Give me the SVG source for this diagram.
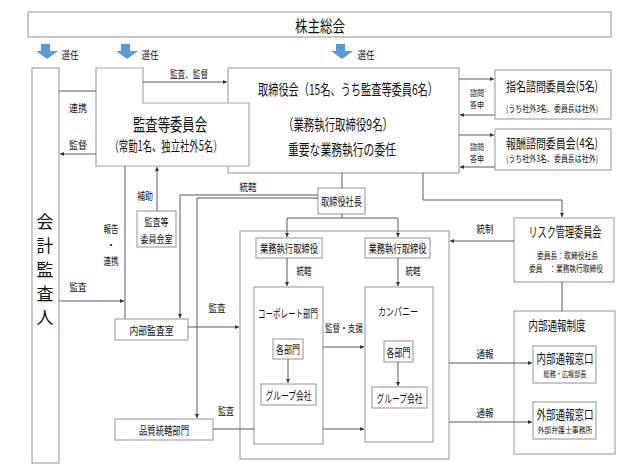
<svg xmlns="http://www.w3.org/2000/svg" width="636" height="475" viewBox="0 0 636 475">
<style>
.t{font-family:"Noto Sans CJK JP","Noto Sans CJK SC",sans-serif;fill:#111;text-anchor:middle;dominant-baseline:central}
.b{fill:#fff;stroke:#a6a6a6;stroke-width:1.2}
.c{fill:none;stroke:#5a5a5a;stroke-width:1}
.blue{fill:#5b9bd5}
</style>
<defs>
<marker id="ah" viewBox="0 0 6 6" refX="6" refY="3" markerWidth="4" markerHeight="4" markerUnits="userSpaceOnUse" orient="auto">
<path d="M0,0 L6,3 L0,6 Z" fill="#333"/>
</marker>
</defs>
<rect width="636" height="475" fill="#fff"/>

<g id="shareholders">
<rect class="b" x="28" y="12" width="583" height="25"/>
<text class="t" x="320" y="25" font-size="16" textLength="50" lengthAdjust="spacingAndGlyphs">株主総会</text>
</g>

<g id="elect-arrows">
<polygon class="blue" points="41,44 50,44 50,51 58,51 47,59 36,51 41,51"/>
<text class="t" x="70" y="54" font-size="10" textLength="17" lengthAdjust="spacingAndGlyphs">選任</text>
<polygon class="blue" points="121,44 130,44 130,51 138,51 127,59 116,51 121,51"/>
<text class="t" x="150" y="54" font-size="10" textLength="17" lengthAdjust="spacingAndGlyphs">選任</text>
<polygon class="blue" points="336,44 345,44 345,51 353,51 342,59 331,51 336,51"/>
<text class="t" x="366" y="54" font-size="10" textLength="17" lengthAdjust="spacingAndGlyphs">選任</text>
</g>

<g id="auditor">
<rect class="b" x="32" y="68" width="27" height="395"/>
<text class="t" x="45" y="220" font-size="17">会</text>
<text class="t" x="45" y="244" font-size="17">計</text>
<text class="t" x="45" y="268" font-size="17">監</text>
<text class="t" x="45" y="292" font-size="17">査</text>
<text class="t" x="45" y="316" font-size="17">人</text>
</g>

<g id="board">
<rect class="b" x="228" y="68" width="231" height="105"/>
<text class="t" x="348" y="88" font-size="15" textLength="180" lengthAdjust="spacingAndGlyphs">取締役会（15名、うち監査等委員6名）</text>
<text class="t" x="338" y="123" font-size="15" textLength="110" lengthAdjust="spacingAndGlyphs">（業務執行取締役9名）</text>
<text class="t" x="342" y="148" font-size="15" textLength="108" lengthAdjust="spacingAndGlyphs">重要な業務執行の委任</text>
</g>

<g id="audit-committee">
<polygon class="b" points="96,68 143,68 143,103 249,103 249,166 96,166"/>
<text class="t" x="170" y="123" font-size="17" textLength="74" lengthAdjust="spacingAndGlyphs">監査等委員会</text>
<text class="t" x="166" y="145" font-size="14" textLength="113" lengthAdjust="spacingAndGlyphs">（常勤1名、独立社外5名）</text>
</g>

<g id="nomination">
<rect class="b" x="495" y="70" width="116" height="49"/>
<text class="t" x="552" y="85" font-size="13" textLength="92" lengthAdjust="spacingAndGlyphs">指名諮問委員会(5名)</text>
<text class="t" x="552" y="108" font-size="9" textLength="92" lengthAdjust="spacingAndGlyphs">(うち社外3名、委員長は社外)</text>
</g>

<g id="compensation">
<rect class="b" x="495" y="129" width="116" height="41"/>
<text class="t" x="552" y="142" font-size="13" textLength="92" lengthAdjust="spacingAndGlyphs">報酬諮問委員会(4名)</text>
<text class="t" x="552" y="158" font-size="9" textLength="92" lengthAdjust="spacingAndGlyphs">(うち社外3名、委員長は社外)</text>
</g>

<g id="president">
<rect class="b" x="318" y="188" width="47" height="26"/>
<text class="t" x="341.5" y="201" font-size="11" textLength="41" lengthAdjust="spacingAndGlyphs">取締役社長</text>
</g>

<g id="audit-office">
<rect class="b" x="137" y="211" width="39" height="36"/>
<text class="t" x="156.5" y="221" font-size="10" textLength="24" lengthAdjust="spacingAndGlyphs">監査等</text>
<text class="t" x="156.5" y="238" font-size="10" textLength="32" lengthAdjust="spacingAndGlyphs">委員会室</text>
</g>

<g id="operations">
<rect class="b" x="240" y="231" width="209" height="228"/>
</g>

<g id="exec1">
<rect class="b" x="256" y="238" width="66" height="20"/>
<text class="t" x="289" y="248" font-size="11" textLength="58" lengthAdjust="spacingAndGlyphs">業務執行取締役</text>
</g>
<g id="exec2">
<rect class="b" x="365" y="238" width="65" height="20"/>
<text class="t" x="397.5" y="248" font-size="11" textLength="58" lengthAdjust="spacingAndGlyphs">業務執行取締役</text>
</g>

<g id="corporate">
<rect class="b" x="254" y="287" width="69" height="157"/>
<text class="t" x="288" y="313" font-size="11" textLength="60" lengthAdjust="spacingAndGlyphs">コーポレート部門</text>
</g>
<g id="corp-depts">
<rect class="b" x="273" y="339" width="30" height="20"/>
<text class="t" x="288" y="349" font-size="11" textLength="24" lengthAdjust="spacingAndGlyphs">各部門</text>
</g>
<g id="corp-group">
<rect class="b" x="261" y="384" width="55" height="21"/>
<text class="t" x="288.5" y="394.5" font-size="11" textLength="46" lengthAdjust="spacingAndGlyphs">グループ会社</text>
</g>

<g id="company">
<rect class="b" x="365" y="287" width="68" height="155"/>
<text class="t" x="398" y="311" font-size="11" textLength="40" lengthAdjust="spacingAndGlyphs">カンパニー</text>
</g>
<g id="comp-depts">
<rect class="b" x="384" y="341" width="29" height="21"/>
<text class="t" x="398.5" y="351.5" font-size="11" textLength="24" lengthAdjust="spacingAndGlyphs">各部門</text>
</g>
<g id="comp-group">
<rect class="b" x="372" y="387" width="55" height="21"/>
<text class="t" x="399.5" y="397.5" font-size="11" textLength="46" lengthAdjust="spacingAndGlyphs">グループ会社</text>
</g>

<g id="internal-audit">
<rect class="b" x="115" y="319" width="73" height="21"/>
<text class="t" x="151.5" y="329.5" font-size="11" textLength="44" lengthAdjust="spacingAndGlyphs">内部監査室</text>
</g>

<g id="quality">
<rect class="b" x="115" y="419" width="98" height="21"/>
<text class="t" x="164" y="429.5" font-size="11" textLength="50" lengthAdjust="spacingAndGlyphs">品質統轄部門</text>
</g>

<g id="risk">
<rect class="b" x="514" y="218" width="100" height="64"/>
<text class="t" x="565" y="231" font-size="13.5" textLength="73" lengthAdjust="spacingAndGlyphs">リスク管理委員会</text>
<text class="t" x="567.5" y="255" font-size="9" textLength="61" lengthAdjust="spacingAndGlyphs">委員長：取締役社長</text>
<text class="t" x="566" y="268" font-size="9" textLength="74" lengthAdjust="spacingAndGlyphs">委員　：業務執行取締役</text>
</g>

<g id="whistle">
<rect class="b" x="514" y="311" width="101" height="143"/>
<text class="t" x="557" y="324" font-size="13" textLength="57" lengthAdjust="spacingAndGlyphs">内部通報制度</text>
</g>
<g id="internal-window">
<rect class="b" x="533" y="346" width="63" height="37"/>
<text class="t" x="565" y="357" font-size="13" textLength="57" lengthAdjust="spacingAndGlyphs">内部通報窓口</text>
<text class="t" x="565" y="373" font-size="8" textLength="43" lengthAdjust="spacingAndGlyphs">総務・広報部長</text>
</g>
<g id="external-window">
<rect class="b" x="533" y="402" width="63" height="37"/>
<text class="t" x="565" y="413" font-size="13" textLength="57" lengthAdjust="spacingAndGlyphs">外部通報窓口</text>
<text class="t" x="565" y="429" font-size="8" textLength="55" lengthAdjust="spacingAndGlyphs">外部弁護士事務所</text>
</g>

<g id="connectors">
<path class="c" d="M59,91 H96"/>
<path class="c" d="M96,154 H60" marker-end="url(#ah)"/>
<path class="c" d="M143,82 H227" marker-end="url(#ah)"/>
<path class="c" d="M459,79 H494" marker-end="url(#ah)"/>
<path class="c" d="M495,115 H460" marker-end="url(#ah)"/>
<path class="c" d="M459,135 H494" marker-end="url(#ah)"/>
<path class="c" d="M495,167 H460" marker-end="url(#ah)"/>
<path class="c" d="M342,173 V188"/>
<path class="c" d="M318,195 H180 V318" marker-end="url(#ah)"/>
<path class="c" d="M318,198 H197 V418" marker-end="url(#ah)"/>
<path class="c" d="M342,214 V218"/>
<path class="c" d="M287,218 H398"/>
<path class="c" d="M287,218 V237" marker-end="url(#ah)"/>
<path class="c" d="M398,218 V237" marker-end="url(#ah)"/>
<path class="c" d="M287,258 V286" marker-end="url(#ah)"/>
<path class="c" d="M398,258 V286" marker-end="url(#ah)"/>
<path class="c" d="M288,359 V383" marker-end="url(#ah)"/>
<path class="c" d="M398,362 V386" marker-end="url(#ah)"/>
<path class="c" d="M323,347 H364" marker-end="url(#ah)"/>
<path class="c" d="M323,429 H364" marker-end="url(#ah)"/>
<path class="c" d="M188,327 H239" marker-end="url(#ah)"/>
<path class="c" d="M213,429 H254"/>
<path class="c" d="M125,166 V319"/>
<path class="c" d="M59,301 H124" marker-end="url(#ah)"/>
<path class="c" d="M157,211 V167" marker-end="url(#ah)"/>
<path class="c" d="M423,173 V200 H562 V217" marker-end="url(#ah)"/>
<path class="c" d="M514,241 H450" marker-end="url(#ah)"/>
<path class="c" d="M562,282 V311"/>
<path class="c" d="M449,363 H532" marker-end="url(#ah)"/>
<path class="c" d="M449,422 H532" marker-end="url(#ah)"/>
</g>

<g id="connector-labels">
<text class="t" x="189" y="73" font-size="10" textLength="38" lengthAdjust="spacingAndGlyphs">監査、監督</text>
<text class="t" x="78" y="107" font-size="10" textLength="18" lengthAdjust="spacingAndGlyphs">連携</text>
<text class="t" x="78" y="144" font-size="10" textLength="18" lengthAdjust="spacingAndGlyphs">監督</text>
<text class="t" x="477" y="92" font-size="8.5" textLength="14" lengthAdjust="spacingAndGlyphs">諮問</text>
<text class="t" x="477" y="104" font-size="8.5" textLength="14" lengthAdjust="spacingAndGlyphs">答申</text>
<text class="t" x="477" y="146" font-size="8.5" textLength="14" lengthAdjust="spacingAndGlyphs">諮問</text>
<text class="t" x="477" y="158" font-size="8.5" textLength="14" lengthAdjust="spacingAndGlyphs">答申</text>
<text class="t" x="248" y="186" font-size="10" textLength="17" lengthAdjust="spacingAndGlyphs">統轄</text>
<text class="t" x="145" y="195" font-size="10" textLength="16" lengthAdjust="spacingAndGlyphs">補助</text>
<text class="t" x="111" y="228" font-size="10" textLength="15" lengthAdjust="spacingAndGlyphs">報告</text>
<text class="t" x="111" y="244" font-size="10">・</text>
<text class="t" x="111" y="260" font-size="10" textLength="15" lengthAdjust="spacingAndGlyphs">連携</text>
<text class="t" x="78" y="286" font-size="10" textLength="17" lengthAdjust="spacingAndGlyphs">監査</text>
<text class="t" x="217" y="307" font-size="10" textLength="17" lengthAdjust="spacingAndGlyphs">監査</text>
<text class="t" x="226" y="410" font-size="10" textLength="16" lengthAdjust="spacingAndGlyphs">監査</text>
<text class="t" x="304" y="270" font-size="10" textLength="15" lengthAdjust="spacingAndGlyphs">統轄</text>
<text class="t" x="413" y="270" font-size="10" textLength="15" lengthAdjust="spacingAndGlyphs">統轄</text>
<text class="t" x="344" y="327" font-size="10" textLength="38" lengthAdjust="spacingAndGlyphs">監督・支援</text>
<text class="t" x="485" y="228" font-size="10" textLength="17" lengthAdjust="spacingAndGlyphs">統制</text>
<text class="t" x="485" y="353" font-size="10" textLength="17" lengthAdjust="spacingAndGlyphs">通報</text>
<text class="t" x="485" y="412" font-size="10" textLength="17" lengthAdjust="spacingAndGlyphs">通報</text>
</g>
</svg>
